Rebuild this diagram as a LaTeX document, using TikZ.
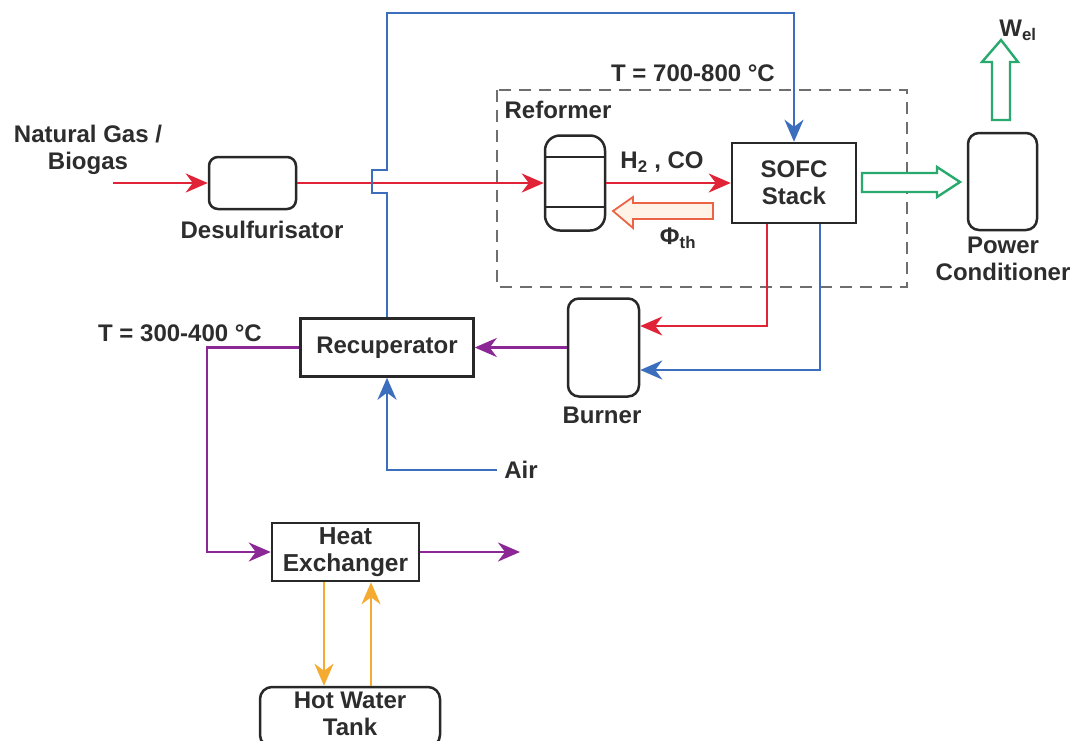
\documentclass[tikz,border=0pt]{standalone}
\usepackage{fontspec}
\setmainfont{Liberation Sans}
\usetikzlibrary{arrows.meta,calc}
\definecolor{txtc}{RGB}{45,45,45}
\definecolor{boxc}{RGB}{40,40,40}
\definecolor{redc}{RGB}{225,35,55}
\definecolor{bluec}{RGB}{60,110,190}
\definecolor{purc}{RGB}{140,40,150}
\definecolor{orc}{RGB}{245,170,50}
\definecolor{grnc}{RGB}{40,170,110}
\definecolor{phic}{RGB}{235,100,70}
\definecolor{phif}{RGB}{255,242,230}
\definecolor{dashc}{RGB}{110,110,110}
\begin{document}
\begin{tikzpicture}[x=1pt,y=-1pt,
  font=\fontsize{24}{27}\selectfont\bfseries,
  every node/.style={text=txtc},
  arr/.style={-{Stealth[length=22pt,width=19pt,inset=7pt]}},
  sqbox/.style={draw=boxc,line width=2.5pt,fill=white,inner sep=0pt,align=center},
  rbox/.style={sqbox,rounded corners=9pt},
  redl/.style={draw=redc,line width=2.5pt,arr},
  bluel/.style={draw=bluec,line width=2.5pt,arr},
  purl/.style={draw=purc,line width=2.5pt,arr},
  orl/.style={draw=orc,line width=2.5pt,arr},
  lbl/.style={align=center,inner sep=0pt}]
\useasboundingbox[fill=white] (0,0) rectangle (1078,740);

% dashed enclosure
\draw[dashc,line width=2.2pt,dash pattern=on 12pt off 8pt] (497,90) rectangle (907,287);
\node[lbl] (tsofc) at (693,73) {T = 700-800 °C};
\node[lbl] (reflbl) at (558,110) {Reformer};

% nodes
\node[rbox,minimum width=87pt,minimum height=52pt] (desulf) at (252.5,183) {};
\node[lbl] (desulflbl) at (262,230) {Desulfurisator};
\node[rbox,rounded corners=15pt,minimum width=60pt,minimum height=95pt] (ref) at (575,183) {};
\draw[boxc,line width=2.5pt] ([yshift=26pt]ref.west) -- ([yshift=26pt]ref.east);
\draw[boxc,line width=2.5pt] ([yshift=-24pt]ref.west) -- ([yshift=-24pt]ref.east);
\node[sqbox,minimum width=124pt,minimum height=80pt] (sofc) at (794,183) {SOFC\\Stack};
\node[rbox,rounded corners=11pt,minimum width=69pt,minimum height=97pt] (pc) at (1002.5,181.5) {};
\node[lbl] (pclbl) at (1003,259) {Power\\Conditioner};
\node[rbox,rounded corners=11pt,minimum width=71pt,minimum height=98pt] (burner) at (603.5,347.5) {};
\node[lbl] (burnlbl) at (602,415) {Burner};
\node[sqbox,minimum width=173pt,minimum height=58pt] (recup) at (387,347.5) {Recuperator};
\node[sqbox,minimum width=147pt,minimum height=58pt,font=\fontsize{24.5}{27}\selectfont\bfseries] (hx) at (345.5,552) {Heat\\Exchanger};
\node[rbox,rounded corners=12pt,minimum width=180pt,minimum height=60pt] (tank) at (350,717) {};
\node[lbl] (tanklbl) at (350,714) {Hot Water\\Tank};

\node[lbl] (nglbl) at (88,150) {Natural Gas /\\Biogas};
\node[lbl] (t2) at (180,333) {T = 300-400 °C};
\node[lbl] (airlbl) at (521,470) {Air};
\node[lbl] (wel) at (1018,30) {W\textsubscript{el}};
\node[lbl] (h2co) at (662,162) {H\textsubscript{2} , CO};
\node[lbl] (phi) at (678,238) {Φ\textsubscript{th}};

% coordinates
\coordinate (ngin) at (113,183);
\coordinate (airin) at (497,470);
\coordinate (hxout) at (520,552);
\coordinate (pcorner) at (207,552);
\coordinate (b1) at (387,193);
\coordinate (b2) at (372,193);
\coordinate (b3) at (372,170);
\coordinate (b4) at (387,170);
\coordinate (b5) at (387,13);

% red flows
\draw[redl] (ngin) -- (desulf.west);
\draw[redl] (desulf.east) -- (ref.west);
\draw[redl] (ref.east) -- (sofc.west);
\draw[redl] ([xshift=-27pt]sofc.south) |- ([yshift=21.5pt]burner.east);

% blue flows
\draw[bluel] (recup.north) -- (b1) -- (b2) -- (b3) -- (b4) -- (b5) -| (sofc.north);
\draw[bluel] ([xshift=26pt]sofc.south) |- ([yshift=-22.5pt]burner.east);
\draw[bluel] (airin) -| (recup.south);

% purple flows
\draw[purl] (burner.west) -- (recup.east);
\draw[purl] (recup.west) -| (pcorner) -- (hx.west);
\draw[purl] (hx.east) -- (hxout);

% orange flows
\coordinate (o1) at ([xshift=-21.5pt]hx.south);
\coordinate (o2) at ([xshift=25.5pt]hx.south);
\draw[orl] (o1) -- (o1 |- tank.north);
\draw[orl] (o2 |- tank.north) -- (o2);

% hollow arrows
\draw[phic,line width=1.8pt,fill=phif,line join=miter]
  (713,203) -- (633,203) -- (633,197) -- (613,211) -- (633,228) -- (633,219) -- (713,219) -- cycle;
\draw[grnc,line width=2.4pt,fill=white,line join=miter]
  (862,173) -- (937,173) -- (937,167) -- (960,182) -- (937,197) -- (937,192) -- (862,192) -- cycle;
\draw[grnc,line width=2.4pt,fill=white,line join=miter]
  (992,120) -- (992,62) -- (982,62) -- (1001,40) -- (1018,62) -- (1010,62) -- (1010,120) -- cycle;
\end{tikzpicture}
\end{document}
